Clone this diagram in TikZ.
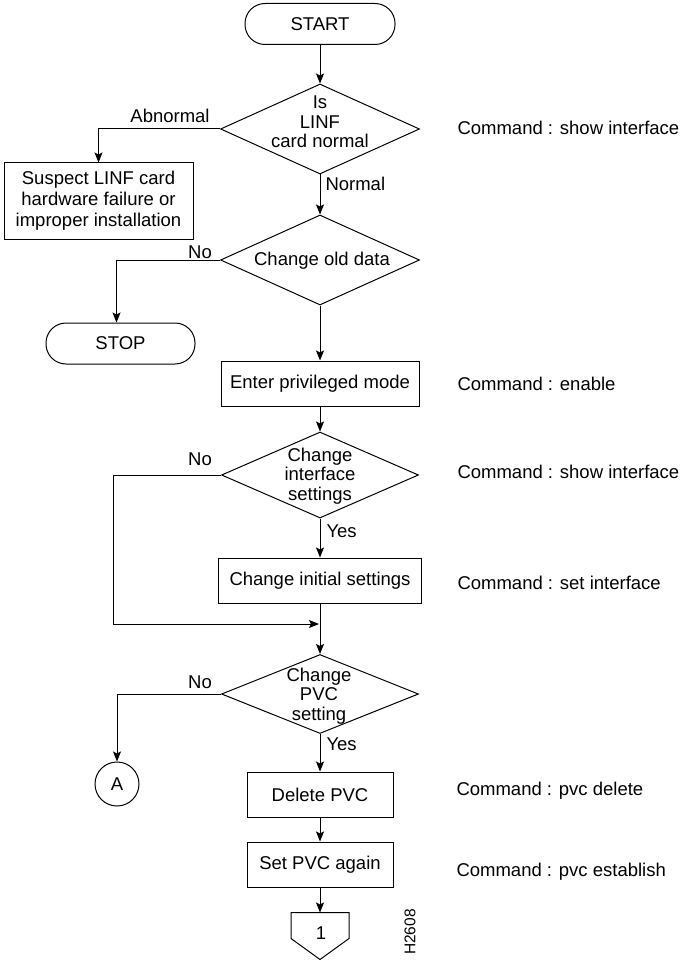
\documentclass[tikz,border=0pt]{standalone}
\usepackage{fontspec}
\setmainfont{Liberation Sans}
\usetikzlibrary{arrows.meta,shapes.geometric,calc}
\begin{document}
\begin{tikzpicture}[x=1pt,y=-1pt,
  font=\fontsize{18.5}{19.5}\selectfont,
  line width=1pt,
  arr/.style={-{Stealth[length=10pt,width=8pt,inset=2pt]}},
  term/.style={draw, rounded corners=20pt, minimum width=150pt, minimum height=41pt, inner sep=0},
  proc/.style={draw, minimum height=45pt, inner sep=0},
  dia/.style={draw, diamond, inner sep=0},
  txt/.style={inner sep=0, align=center},
  lbl/.style={inner sep=0, anchor=base},
  lblw/.style={inner sep=0, anchor=base west},
  cmd/.style={inner sep=0, anchor=base west},
]
\useasboundingbox (0,0) rectangle (680,960);

% nodes
\node[term] (start) at (320,24) {START};
\node[dia, minimum width=199pt, minimum height=90pt] (d1) at (320,129) {};
\node[txt] (d1t) at (320,122) {Is\\LINF\\card normal};
\node[proc, minimum width=189pt, minimum height=76pt, align=center, font=\fontsize{18.5}{21}\selectfont] (sus) at (98.5,201) {Suspect LINF card\\hardware failure or\\improper installation};
\node[dia, minimum width=199pt, minimum height=90pt] (d2) at (320,260) {};
\node[txt] (d2t) at (322,261) {Change old data};
\node[term, minimum width=149pt] (stop) at (120.5,343.5) {STOP};
\node[proc, minimum width=198pt] (enter) at (320,383.5) {Enter privileged mode};
\node[dia, minimum width=197pt, minimum height=86pt] (d3) at (320,475) {};
\node[txt] (d3t) at (320,476) {Change\\interface\\settings};
\node[proc, minimum width=203pt] (init) at (320,580.5) {Change initial settings};
\coordinate (m) at (320,624);
\node[dia, minimum width=197pt, minimum height=79pt] (d4) at (320,694) {};
\node[txt] (d4t) at (319,696) {Change\\PVC\\setting};
\node[draw, circle, minimum size=44pt, inner sep=0] (A) at (117,784) {A};
\node[proc, minimum width=146pt] (del) at (320,794.5) {Delete PVC};
\node[proc, minimum width=146pt] (setp) at (320,864.5) {Set PVC again};
\node[minimum width=57pt, minimum height=46pt, inner sep=0] (c1) at (320,936) {};
\draw (c1.north west) -- (c1.north east) -- ($(c1.north east)+(0,26)$) -- (c1.south) -- ($(c1.north west)+(0,26)$) -- cycle;
\node[txt] (c1t) at (321,933) {1};

% connectors
\draw[arr] (start.south) -- (d1.north);
\draw[arr] (d1.west) -| (sus.north);
\draw[arr] (d1.south) -- (d2.north);
\draw[arr] (d2.west) -| ([xshift=-4pt]stop.north);
\draw[arr] (d2.south) -- (enter.north);
\draw[arr] (enter.south) -- (d3.north);
\draw[arr, shorten >=1pt] (d3.west) -- ++(-108,0) |- (m);
\draw[arr] (d3.south) -- (init.north);
\draw[arr] (init.south) -- (d4.north);
\draw[arr] (d4.west) -| (A.north);
\draw[arr] (d4.south) -- (del.north);
\draw[arr] (del.south) -- (setp.north);
\draw[arr] (setp.south) -- (c1.north);

% branch labels
\node[lbl] (l1) at (170,122.6) {Abnormal};
\node[lblw] (l2) at (325,190.6) {Normal};
\node[lbl] (l3) at (200,258.6) {No};
\node[lbl] (l4) at (200,465.6) {No};
\node[lblw] (l5) at (326,537.6) {Yes};
\node[lbl] (l6) at (200,688.6) {No};
\node[lblw] (l7) at (326,750.6) {Yes};

% commands
\node[cmd] (k1) at (457,134.6) {Command : show interface};
\node[cmd] (k2) at (457,390.6) {Command : enable};
\node[cmd] (k3) at (457,478.6) {Command : show interface};
\node[cmd] (k4) at (457,589.6) {Command : set interface};
\node[cmd] (k5) at (456,795.6) {Command : pvc delete};
\node[cmd] (k6) at (456,876.6) {Command : pvc establish};

\node[rotate=90, inner sep=0, font=\fontsize{15.5}{16}\selectfont] (h) at (410,932) {H2608};
\end{tikzpicture}
\end{document}
